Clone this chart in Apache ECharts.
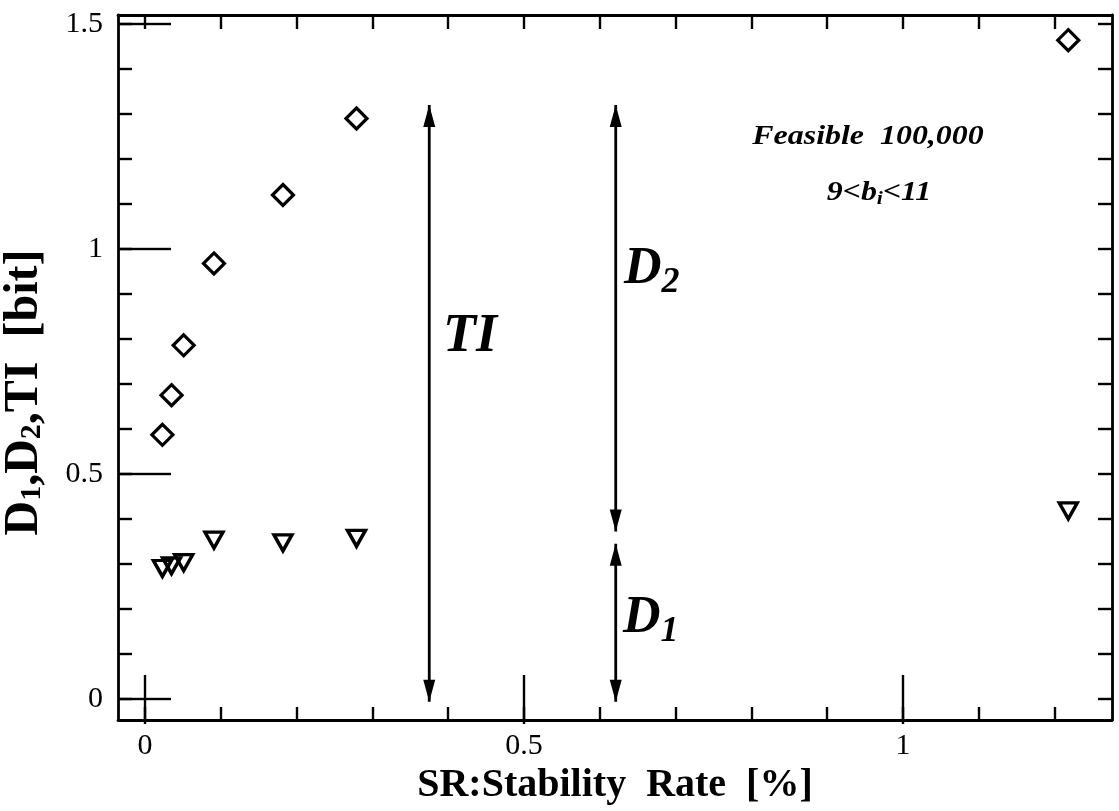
<!DOCTYPE html>
<html>
<head>
<meta charset="utf-8">
<title>D1, D2, TI vs stability rate</title>
<script src="https://cdn.jsdelivr.net/npm/echarts@6.0.0/dist/echarts.min.js"></script>
<style>
  html, body { margin: 0; padding: 0; background: #fff; }
  #chart { width: 1119px; height: 811px; }
</style>
</head>
<body>
<div id="chart"></div>
<script>
// SR: stability rate [%]
const srValues = [0.023, 0.035, 0.051, 0.091, 0.182, 0.279, 1.218]
// TI [bit], diamonds
const tiValues = [0.587, 0.675, 0.786, 0.968, 1.12, 1.29, 1.464]
// D1 [bit], triangles
const d1Values = [0.29, 0.296, 0.303, 0.353, 0.347, 0.357, 0.418]

// schematic arrows: [x, lower tip, upper tip]
const arrowTI = [0.375, -0.006, 1.32]
const arrowD2 = [0.621, 0.372, 1.32]
const arrowD1 = [0.621, -0.006, 0.345]

// ticks and labels
const xMinorTicks = [0, 0.1, 0.2, 0.3, 0.4, 0.5, 0.6, 0.7, 0.8, 0.9, 1, 1.1, 1.2]
const xMajorTicks = [0, 0.5, 1]
const yMinorTicks = [0, 0.1, 0.2, 0.3, 0.4, 0.5, 0.6, 0.7, 0.8, 0.9, 1, 1.1, 1.2, 1.3, 1.4, 1.5]
const yMajorTicks = [0, 0.5, 1, 1.5]

const FONT = "'Liberation Serif', 'Times New Roman', serif"
const X_RANGE = [-0.0356, 1.2757]
const Y_RANGE = [-0.0467, 1.52]

function axis(position, range, ticks, tickLen, labels, extra) {
  return Object.assign({
    type: 'value',
    position: position,
    min: range[0],
    max: range[1],
    splitLine: { show: false },
    axisLine: { show: true, onZero: false, lineStyle: { color: '#000', width: 2.8 } },
    axisTick: {
      show: true,
      inside: true,
      length: tickLen,
      customValues: ticks,
      lineStyle: { color: '#000', width: 2.4 }
    },
    axisLabel: labels ? {
      show: true,
      customValues: labels,
      color: '#000',
      fontFamily: FONT,
      fontSize: 30,
      margin: position === 'left' ? 15 : 11
    } : { show: false }
  }, extra || {})
}

function arrowSeries(a) {
  return {
    type: 'line',
    silent: true,
    z: 3,
    symbol: 'triangle',
    symbolSize: [12, 22],
    lineStyle: { color: '#000', width: 2.8 },
    itemStyle: { color: '#000', opacity: 1 },
    data: [
      { value: [a[0], a[1]], symbolRotate: 180, symbolOffset: [0, -11] },
      { value: [a[0], a[2]], symbolOffset: [0, 11] }
    ]
  }
}

const chart = echarts.init(document.getElementById('chart'))

const subRich = (size, pad) => ({ fontFamily: FONT, fontSize: size, fontWeight: 'bold', fontStyle: 'italic', fill: '#000', padding: [pad, 0, 0, 0] })
const mainRich = (size) => ({ fontFamily: FONT, fontSize: size, fontWeight: 'bold', fontStyle: 'italic', fill: '#000' })

const option = {
  animation: false,
  backgroundColor: '#fff',
  grid: {
    left: 118,
    right: 7,
    top: 15,
    bottom: 91,
    containLabel: false,
    outerBoundsMode: 'none'
  },
  xAxis: [
    axis('bottom', X_RANGE, xMinorTicks, 13, xMajorTicks, {
      name: 'SR:Stability  Rate  [%]',
      nameLocation: 'middle',
      nameGap: 37,
      nameTextStyle: { color: '#000', fontFamily: FONT, fontSize: 40, fontWeight: 'bold' }
    }),
    axis('top', X_RANGE, xMinorTicks, 14, null),
    axis('bottom', X_RANGE, xMajorTicks, 24, null, { axisLine: { show: false } }),
    axis('top', X_RANGE, xMajorTicks, 25, null, { axisLine: { show: false } })
  ],
  yAxis: [
    axis('left', Y_RANGE, yMinorTicks, 14, yMajorTicks, {
      name: '{b|D}{s|1}{b|,D}{s|2}{b|,TI  [bit]}',
      nameLocation: 'middle',
      nameRotate: 90,
      nameGap: 69,
      nameTextStyle: {
        color: '#000',
        padding: [0, 50, 0, 0],
        rich: {
          b: { fontFamily: FONT, fontSize: 48, fontWeight: 'bold', color: '#000' },
          s: { fontFamily: FONT, fontSize: 30, fontWeight: 'bold', color: '#000', padding: [14, 0, 0, 0] }
        }
      }
    }),
    axis('right', Y_RANGE, yMinorTicks, 14, null),
    axis('left', Y_RANGE, yMajorTicks, 26, null, { axisLine: { show: false } }),
    axis('right', Y_RANGE, yMajorTicks, 26, null, { axisLine: { show: false } })
  ],
  series: [
    {
      name: 'TI',
      type: 'scatter',
      z: 4,
      symbol: 'diamond',
      symbolSize: 21,
      itemStyle: { color: 'rgba(0,0,0,0)', borderColor: '#000', borderWidth: 3.2, opacity: 1 },
      data: srValues.map((x, i) => [x, tiValues[i]])
    },
    {
      name: 'D1',
      type: 'scatter',
      z: 4,
      symbol: 'triangle',
      symbolRotate: 180,
      symbolSize: [18, 16],
      itemStyle: { color: 'rgba(0,0,0,0)', borderColor: '#000', borderWidth: 3.4, opacity: 1 },
      data: srValues.map((x, i) => [x, d1Values[i]])
    },
    arrowSeries(arrowTI),
    arrowSeries(arrowD2),
    arrowSeries(arrowD1)
  ],
  graphic: [
    {
      type: 'text', x: 443, y: 337,
      style: {
        text: 'TI', fill: '#000', fontFamily: FONT, fontSize: 54,
        fontWeight: 'bold', fontStyle: 'italic', textAlign: 'left', textVerticalAlign: 'middle'
      }
    },
    {
      type: 'text', x: 624, y: 270,
      style: {
        text: '{m|D}{s|2}', fill: '#000', textAlign: 'left', textVerticalAlign: 'middle',
        rich: { m: mainRich(52), s: subRich(36, 26) }
      }
    },
    {
      type: 'text', x: 623, y: 619,
      style: {
        text: '{m|D}{s|1}', fill: '#000', textAlign: 'left', textVerticalAlign: 'middle',
        rich: { m: mainRich(52), s: subRich(36, 26) }
      }
    },
    {
      type: 'text', x: 868, y: 137, scaleX: 1.14,
      style: {
        text: 'Feasible  100,000', fill: '#000', fontFamily: FONT, fontSize: 28,
        fontWeight: 'bold', fontStyle: 'italic', textAlign: 'center', textVerticalAlign: 'middle'
      }
    },
    {
      type: 'text', x: 879, y: 193, scaleX: 1.14,
      style: {
        text: '{m|9<b}{s|i}{m|<11}', fill: '#000', textAlign: 'center', textVerticalAlign: 'middle',
        rich: { m: mainRich(28), s: subRich(19, 12) }
      }
    }
  ]
}

chart.setOption(option)
</script>
</body>
</html>
